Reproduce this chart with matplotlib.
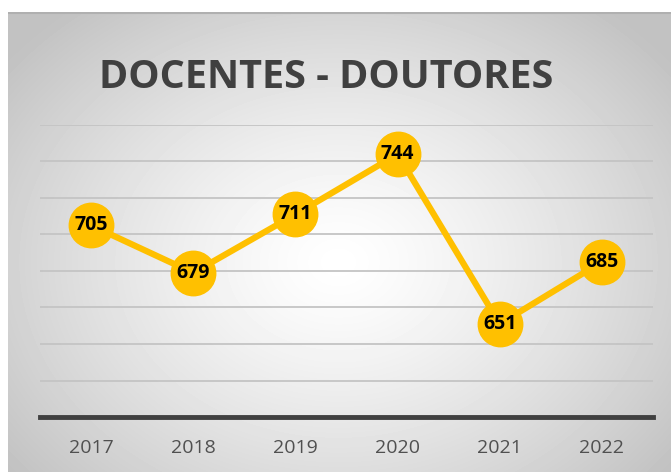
import numpy as np
import matplotlib.pyplot as plt

years = ["2017", "2018", "2019", "2020", "2021", "2022"]
doutores = [705, 679, 711, 744, 651, 685]
title = "DOCENTES - DOUTORES"


def main():
    fig = plt.figure(figsize=(6.71, 4.72), dpi=100)

    # radial gradient background of the chart panel
    bg = fig.add_axes([8 / 671, 0, 1 - 8 / 671, 460 / 472])
    h, w = 460, 663
    yy, xx = np.mgrid[0:h, 0:w]
    r = np.hypot((xx - 330) / 420.0, (yy - 250) / 330.0)
    shade = 1.0 - 0.24 * np.clip(r, 0, 1) ** 1.3
    bg.imshow(shade, cmap="gray", vmin=0, vmax=1, aspect="auto",
              extent=[0, w, h, 0], interpolation="bilinear")
    bg.set_xlim(0, w)
    bg.set_ylim(h, 0)
    bg.axhline(0.5, color="#b0b0b0", lw=1.5)
    bg.axis("off")

    ax = fig.add_axes([40 / 671, 55 / 472, 613 / 671, 292 / 472])
    ax.patch.set_alpha(0)
    x = np.arange(len(years))
    ax.plot(x, doutores, color="#FFC000", lw=4.5, marker="o", ms=32,
            mec="#FFC000", mfc="#FFC000", zorder=3, solid_capstyle="round")
    for xi, v in zip(x, doutores):
        ax.text(xi, v, str(v), ha="center", va="center", fontsize=14,
                fontweight="bold", color="black", zorder=4,
                family=["Open Sans", "DejaVu Sans"])

    ax.set_xlim(-0.5, len(years) - 0.5)
    ax.set_ylim(600, 760)
    ax.set_yticks(np.arange(620, 761, 20))
    ax.yaxis.grid(True, color="#c4c4c4", lw=1.3)
    ax.set_axisbelow(True)
    ax.tick_params(axis="y", left=False, labelleft=False)
    ax.set_xticks(x)
    ax.set_xticklabels(years, fontsize=14, color="#505050",
                       family=["Open Sans", "DejaVu Sans"])
    ax.tick_params(axis="x", length=0, pad=16)
    for s in ["top", "left", "right"]:
        ax.spines[s].set_visible(False)
    ax.spines["bottom"].set_color("#404040")
    ax.spines["bottom"].set_linewidth(3.5)

    fig.text(0.486, 1 - 77 / 472, title, ha="center", va="center",
             fontsize=28.5, fontweight="bold", color="#404040",
             family=["Open Sans", "DejaVu Sans"])

    fig.savefig("out.png", dpi=100, facecolor="white")


if __name__ == "__main__":
    main()
